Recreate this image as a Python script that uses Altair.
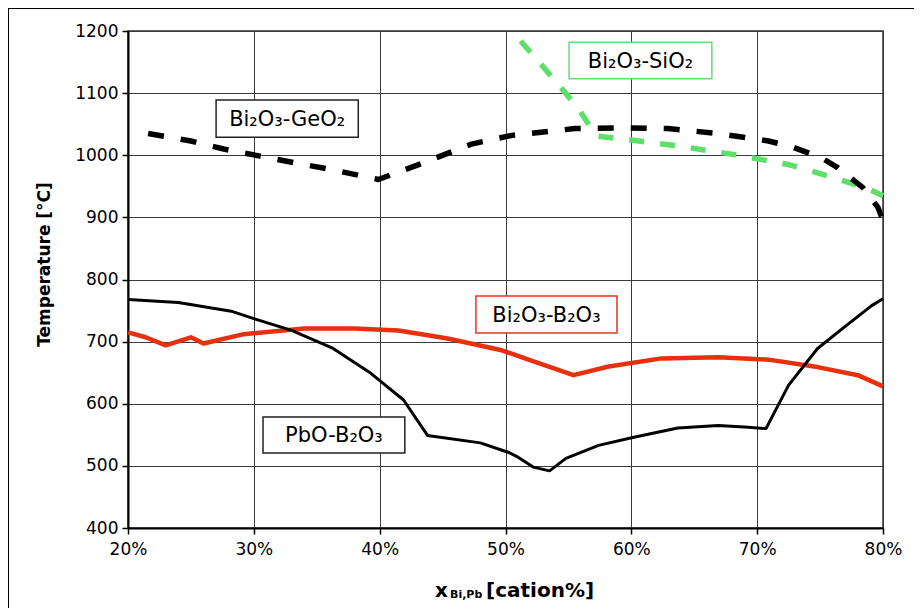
import altair as alt
import pandas as pd

FONT = "DejaVu Sans"

# PbO-B2O3 (solid black)
pbo_x = [20, 24.0, 28.2, 30.0, 33.0, 36.3, 39.3, 41.9, 43.8, 48.0, 50.2, 51.0, 52.2, 53.5,
         54.8, 57.4, 60.2, 63.7, 66.9, 69.3, 70.7, 72.5, 74.8, 76.9, 79.1, 80]
pbo_y = [768, 763, 749, 737, 718, 689, 649, 606, 549, 537, 522, 514, 498, 492,
         512, 533, 546, 561, 565, 562, 560, 630, 689, 723, 758, 769]

# Bi2O3-B2O3 (solid red)
bib_x = [20, 21.4, 23.0, 25.0, 26.0, 29.2, 34.0, 38.0, 41.5, 45.4, 49.7, 52.0, 55.4, 58.2,
         62.4, 66.9, 70.9, 74.8, 78.0, 80]
bib_y = [715, 707, 694, 707, 697, 712, 721, 721, 718, 705, 686, 670, 646, 660,
         673, 675, 671, 659, 646, 628]

# Bi2O3-GeO2 (dashed black)
ge_x = [21.6, 25, 27.6, 30.4, 33.2, 35.9, 38.5, 39.9, 40.7, 43.5, 47.3, 50.5, 55.5, 59.6,
        62.9, 66.9, 70.9, 72.7, 75.1, 76.4, 78.4, 79.6, 80]
ge_y = [1035, 1023, 1010, 999, 988, 978, 967, 961, 967, 988, 1018, 1032, 1043, 1044,
        1043, 1035, 1023, 1014, 996, 980, 948, 916, 895]

# Bi2O3-SiO2 (dashed green)
si_x = [51.2, 52.8, 54.4, 55.8, 57.2, 59.4, 63.7, 68.2, 72.5, 76.1, 78.8, 80]
si_y = [1184, 1147, 1109, 1075, 1031, 1026, 1015, 1001, 985, 964, 946, 935]

# annotation boxes
label_text = ["Bi₂O₃-GeO₂", "Bi₂O₃-SiO₂", "Bi₂O₃-B₂O₃", "PbO-B₂O₃"]
box_x1 = [27.0, 55.05, 47.65, 30.73]
box_x2 = [38.3, 66.4, 58.86, 42.0]
box_y1 = [1089, 1182, 773.4, 578.7]
box_y2 = [1029, 1123, 713.9, 520.7]
box_colors = ["#222222", "#66dd77", "#e8341c", "#222222"]

x_ticks = [20, 30, 40, 50, 60, 70, 80]
y_ticks = [400, 500, 600, 700, 800, 900, 1000, 1100, 1200]

xscale = alt.Scale(domain=[20, 80], nice=False, zero=False)
yscale = alt.Scale(domain=[400, 1200], nice=False, zero=False)

x_axis = alt.Axis(values=x_ticks, labelExpr="datum.value + '%'", title=None,
                  grid=True, gridColor="#3a3a3a", gridWidth=1,
                  domainColor="black", domainWidth=2,
                  tickColor="black", tickSize=6, tickWidth=1.5,
                  labelFlush=False, labelOverlap=False, labelBound=False,
                  labelFont=FONT, labelFontSize=17, labelColor="black", labelPadding=7)
y_axis = alt.Axis(values=y_ticks, title="Temperature [°C]", labelExpr="'' + datum.value",
                  grid=True, gridColor="#3a3a3a", gridWidth=1,
                  domainColor="black", domainWidth=2,
                  tickColor="black", tickSize=6, tickWidth=1.5,
                  labelFlush=False, labelOverlap=False, labelBound=False,
                  labelFont=FONT, labelFontSize=17, labelColor="black", labelPadding=4,
                  titleFont=FONT, titleFontSize=17, titleFontWeight="bold", titleColor="black",
                  titleX=-84, titleY=233, titleAngle=270, titleAlign="center",
                  titleBaseline="middle")

def line(xs, ys, color, width, dash=None):
    df = pd.DataFrame({"x": xs, "y": ys})
    kw = dict(color=color, strokeWidth=width, strokeJoin="round")
    if dash:
        kw["strokeDash"] = dash
        kw["strokeCap"] = "butt"
    return alt.Chart(df).mark_line(**kw).encode(
        x=alt.X("x:Q", scale=xscale, axis=x_axis),
        y=alt.Y("y:Q", scale=yscale, axis=y_axis),
    )

red = line(bib_x, bib_y, "#e8300e", 4.5)
pbo = line(pbo_x, pbo_y, "black", 3)
si = line(si_x, si_y, "#5ddf6a", 5.5, [15, 16])
ge = line(ge_x, ge_y, "black", 5.5, [16, 17])

boxes_df = pd.DataFrame({
    "label": label_text, "x1": box_x1, "x2": box_x2, "y1": box_y1, "y2": box_y2,
    "c": box_colors,
})
boxes_df["xm"] = (boxes_df["x1"] + boxes_df["x2"]) / 2
boxes_df["ym"] = (boxes_df["y1"] + boxes_df["y2"]) / 2

boxes = alt.Chart(boxes_df).mark_rect(fill="white", strokeWidth=1.5).encode(
    x=alt.X("x1:Q", scale=xscale, axis=x_axis), x2="x2:Q",
    y=alt.Y("y1:Q", scale=yscale, axis=y_axis), y2="y2:Q",
    stroke=alt.Stroke("c:N", scale=None),
)
texts = alt.Chart(boxes_df).mark_text(font=FONT, fontSize=21, color="black",
                                      baseline="middle", align="center", dy=1).encode(
    x=alt.X("xm:Q", scale=xscale, axis=x_axis),
    y=alt.Y("ym:Q", scale=yscale, axis=y_axis),
    text="label:N",
)

one = alt.Data(values=[{}])
xt1 = alt.Chart(one).mark_text(font=FONT, fontSize=20, fontWeight="bold", align="left",
                               baseline="alphabetic", color="black", text="x").encode(
    x=alt.value(307), y=alt.value(566))
xt2 = alt.Chart(one).mark_text(font=FONT, fontSize=11, fontWeight="bold", align="left",
                               baseline="alphabetic", color="black", text="Bi,Pb").encode(
    x=alt.value(322), y=alt.value(567))
xt3 = alt.Chart(one).mark_text(font=FONT, fontSize=20, fontWeight="bold", align="left",
                               baseline="alphabetic", color="black", text="[cation%]").encode(
    x=alt.value(358), y=alt.value(566))

frame_left = alt.Chart(one).mark_rule(color="black", strokeWidth=1).encode(
    x=alt.value(-119.5), y=alt.value(-23), y2=alt.value(620))
frame_top = alt.Chart(one).mark_rule(color="black", strokeWidth=1).encode(
    x=alt.value(-120), x2=alt.value(800), y=alt.value(-22.5))

chart = alt.layer(
    red, pbo, si, ge, boxes, texts, xt1, xt2, xt3, frame_left, frame_top
).properties(
    width=755, height=497,
    autosize=alt.AutoSizeParams(type="none"),
    padding={"left": 120, "top": 23, "right": 31, "bottom": 80},
    background="white",
).configure_view(stroke="#333333", strokeWidth=1.5)

chart.save("out.html", embed_options={"renderer": "svg", "actions": False})
